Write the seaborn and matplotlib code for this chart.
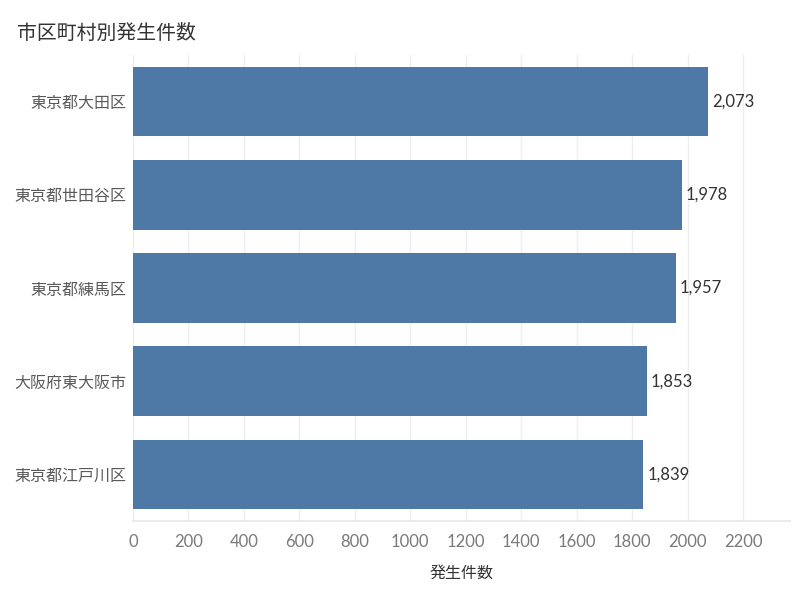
import matplotlib
matplotlib.use("Agg")
import matplotlib.pyplot as plt
import seaborn as sns
import pandas as pd

cities = ["東京都大田区", "東京都世田谷区", "東京都練馬区", "大阪府東大阪市", "東京都江戸川区"]
counts = [2073, 1978, 1957, 1853, 1839]
xticks = [0, 200, 400, 600, 800, 1000, 1200, 1400, 1600, 1800, 2000, 2200]

sns.set_theme(style="white")
plt.rcParams['font.family'] = ['Lato', 'Noto Sans CJK JP', 'DejaVu Sans']

df = pd.DataFrame({"city": cities, "count": counts})

fig = plt.figure(figsize=(7.99, 5.99), dpi=100)
ax = fig.add_axes([0.1665, 0.1302, 0.8225, 0.778])

sns.barplot(data=df, x="count", y="city", orient="h", color="#4e79a7",
            saturation=1, width=0.745, linewidth=0, ax=ax)

ax.set_xlim(0, 2370)
ax.set_ylim(4.5, -0.5)
ax.set_xticks(xticks)
ax.set_xticklabels([str(t) for t in xticks], color="#7a7a7a", fontsize=12)
ax.grid(axis="x", color="#eeeeee", linewidth=1)
ax.set_axisbelow(True)
for s in ["top", "right", "left"]:
    ax.spines[s].set_visible(False)
ax.spines["bottom"].set_color("#e8e8e8")
ax.tick_params(axis="x", length=4, color="#eeeeee", pad=5)
ax.tick_params(axis="y", length=0, pad=5)
for lbl in ax.get_yticklabels():
    lbl.set_fontsize(11.5)
    lbl.set_color("#5a5a5a")
    lbl.set_family(['Noto Sans CJK JP', 'DejaVu Sans'])

ax.set_ylabel("")
ax.set_xlabel("発生件数", fontsize=11.5, color="#333333", labelpad=11,
              family=['Noto Sans CJK JP', 'DejaVu Sans'])

for c in ax.containers:
    ax.bar_label(c, labels=[f"{v:,}" for v in counts], padding=3,
                 fontsize=12, color="#333333")

fig.text(17/799, 1 - 33/599, "市区町村別発生件数", fontsize=14.3, color="#333333",
         va="center", ha="left", family=['Noto Sans CJK JP', 'DejaVu Sans'])

fig.savefig("out.png", dpi=100)
